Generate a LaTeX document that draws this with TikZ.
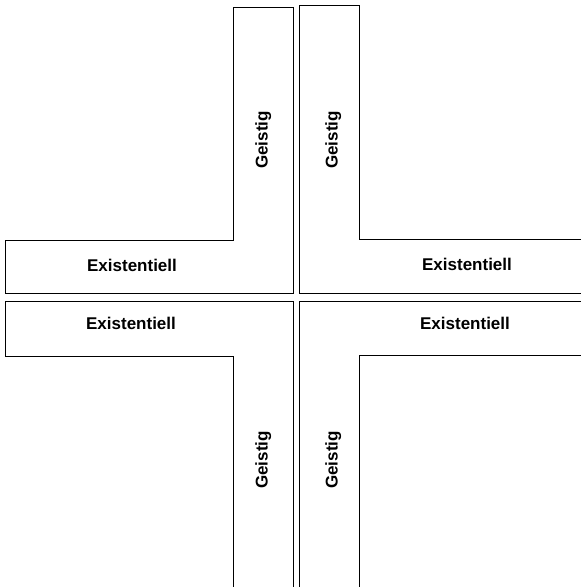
\documentclass[tikz,border=0pt]{standalone}
\usepackage{fontspec}
\setmainfont{Liberation Sans}
\begin{document}
\begin{tikzpicture}[x=1pt,y=-1pt,
  lshape/.style={draw=black,line width=0.9pt,fill=white},
  lbl/.style={font=\fontsize{17}{20}\selectfont\bfseries,inner sep=0pt,anchor=base}]
\useasboundingbox (0,0) rectangle (581,587);
\clip (0,0) rectangle (581,587);
\fill[white] (0,0) rectangle (581,587);
% top-left L
\draw[lshape] (5,240) -- (233,240) -- (233,7) -- (293,7) -- (293,293) -- (5,293) -- cycle;
% top-right L
\draw[lshape] (299,5) -- (359,5) -- (359,239) -- (595,239) -- (595,293) -- (299,293) -- cycle;
% bottom-left L
\draw[lshape] (5,301) -- (293,301) -- (293,600) -- (233,600) -- (233,356) -- (5,356) -- cycle;
% bottom-right L
\draw[lshape] (299,301) -- (595,301) -- (595,355) -- (359,355) -- (359,600) -- (299,600) -- cycle;
% labels
\node[lbl] (e1) at (132,271.5) {Existentiell};
\node[lbl] (e2) at (467,270.5) {Existentiell};
\node[lbl] (e3) at (131,329) {Existentiell};
\node[lbl] (e4) at (465,329) {Existentiell};
\node[lbl,rotate=90] (g1) at (267.5,140) {Geistig};
\node[lbl,rotate=90] (g2) at (337.5,140) {Geistig};
\node[lbl,rotate=90] (g3) at (267.5,460) {Geistig};
\node[lbl,rotate=90] (g4) at (337.5,460) {Geistig};
\end{tikzpicture}
\end{document}
